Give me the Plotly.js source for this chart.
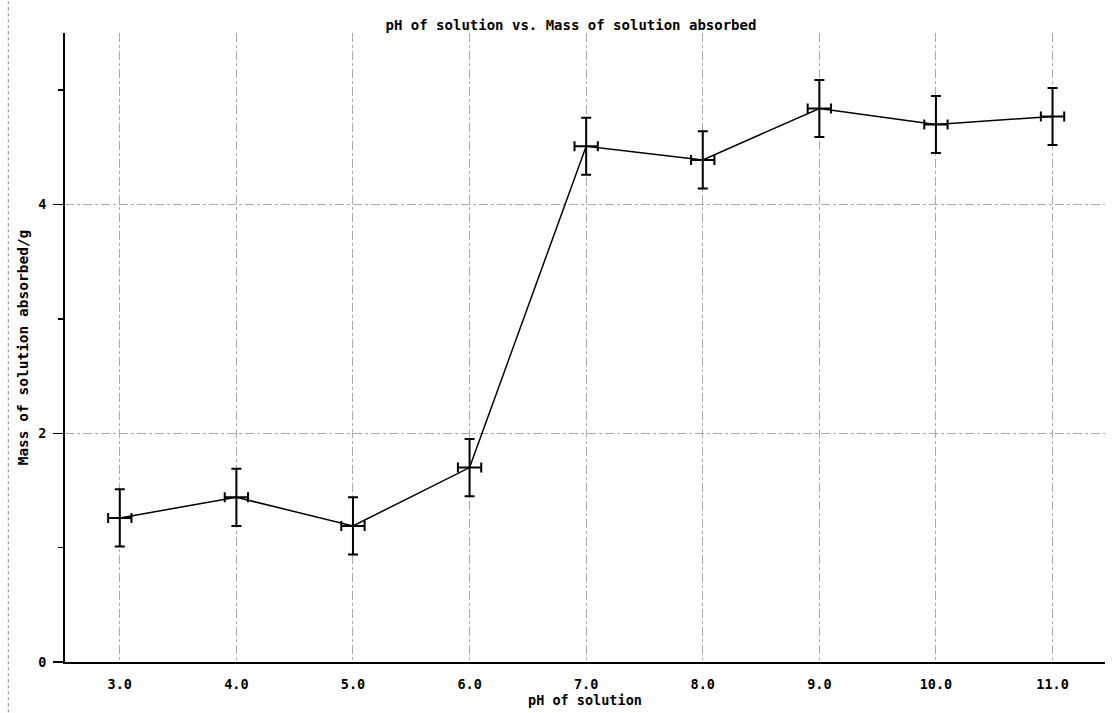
<!DOCTYPE html>
<html>
<head>
<meta charset="utf-8">
<script src="https://cdn.plot.ly/plotly-3.0.1.min.js"></script>
<style>html,body{margin:0;padding:0;background:#fff;}#chart{width:1113px;height:713px;}</style>
</head>
<body>
<div id="chart"></div>
<script>
const ph = [3.0, 4.0, 5.0, 6.0, 7.0, 8.0, 9.0, 10.0, 11.0];
const mass = [1.26, 1.44, 1.19, 1.70, 4.51, 4.39, 4.84, 4.70, 4.77];
const massErr = [0.25, 0.25, 0.25, 0.25, 0.25, 0.25, 0.25, 0.25, 0.25];
const phErr = [0.1, 0.1, 0.1, 0.1, 0.1, 0.1, 0.1, 0.1, 0.1];
const xTicks = [3, 4, 5, 6, 7, 8, 9, 10, 11];
const xTickText = ["3.0", "4.0", "5.0", "6.0", "7.0", "8.0", "9.0", "10.0", "11.0"];
const yTicks = [0, 2, 4];
const yTickText = ["0", "2", "4"];

const fam = "DejaVu Sans Mono, monospace";
const tickFont = {family: fam, size: 13.5, color: "#000", weight: "bold"};
const titleFont = {family: fam, size: 14, color: "#000", weight: "bold"};
const xTitleFont = {family: fam, size: 13.5, color: "#000", weight: "bold"};
const yTitleFont = {family: fam, size: 14.5, color: "#000", weight: "bold"};

const trace = {
  x: ph, y: mass, type: "scatter", mode: "lines",
  line: {color: "#000", width: 1.5},
  error_y: {type: "data", array: massErr, visible: true, color: "#000", thickness: 2, width: 5},
  error_x: {type: "data", array: phErr, visible: true, color: "#000", thickness: 2, width: 5},
  hoverinfo: "skip"
};

const layout = {
  width: 1113, height: 713,
  margin: {l: 65, r: 8, t: 33, b: 51, pad: 0},
  paper_bgcolor: "#fff", plot_bgcolor: "#fff",
  showlegend: false,
  font: tickFont,
  title: {text: "pH of solution vs. Mass of solution absorbed", font: titleFont, x: 0.513, xanchor: "center", y: 0.965, yanchor: "middle"},
  xaxis: {
    range: [2.53, 11.45], tickvals: xTicks, ticktext: xTickText,
    showgrid: true, gridcolor: "#aaa", gridwidth: 1, griddash: "dashdot",
    zeroline: false, showline: true, linecolor: "#000", linewidth: 2,
    ticks: "outside", ticklen: 9, tickcolor: "rgba(0,0,0,0)",
    tickfont: tickFont,
    title: {text: "pH of solution", font: xTitleFont, standoff: 0}
  },
  yaxis: {
    range: [0, 5.5], tickvals: yTicks, ticktext: yTickText,
    showgrid: true, gridcolor: "#aaa", gridwidth: 1, griddash: "dashdot",
    zeroline: false, showline: true, linecolor: "#000", linewidth: 2,
    ticks: "outside", ticklen: 10, tickwidth: 1.5, tickcolor: "#000",
    ticklabelstandoff: 4,
    minor: {tickvals: [1, 3, 5], ticks: "outside", ticklen: 5, tickwidth: 1.5, tickcolor: "#000", showgrid: false},
    tickfont: tickFont,
    title: {text: "Mass of solution absorbed/g", font: yTitleFont, standoff: 6}
  },
  shapes: [
    {type: "line", xref: "paper", yref: "paper", x0: -0.0545, x1: -0.0545, y0: -0.08, y1: 1.05,
     line: {color: "#888", width: 1, dash: "dot"}}
  ]
};

Plotly.newPlot("chart", [trace], layout, {staticPlot: true, displayModeBar: false});
</script>
</body>
</html>
